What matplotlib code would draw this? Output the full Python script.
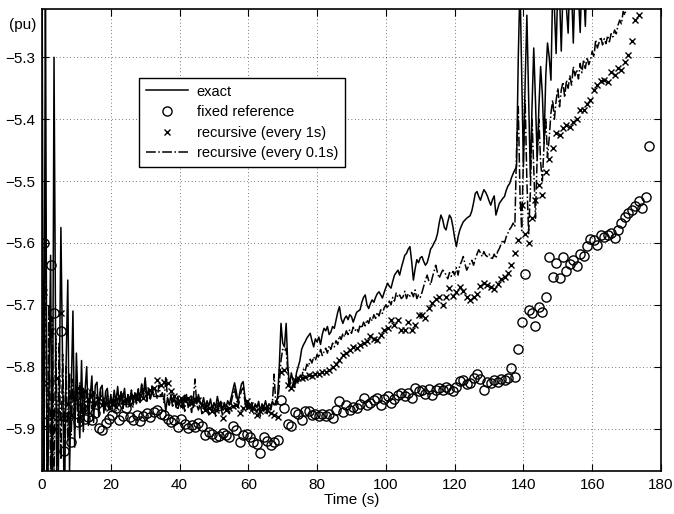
import numpy as np
import matplotlib
matplotlib.use("Agg")
import matplotlib.pyplot as plt

plt.rcParams['font.family'] = ['Liberation Sans', 'DejaVu Sans']
plt.rcParams['font.size'] = 11

# exact solution, sampled every 0.5 s from t = 0
exact = [
    -5.10, -6.10, -5.15, -6.10, -5.85, -5.62, -6.05, -5.30, -5.80, -6.10,
    -5.85, -5.575, -5.80, -6.05, -5.80, -5.66, -5.97, -5.84, -5.71, -5.93,
    -5.778, -5.86, -5.915, -5.79, -5.905, -5.84, -5.80, -5.895, -5.85, -5.815,
    -5.89, -5.83, -5.825, -5.88, -5.835, -5.83, -5.875, -5.84, -5.835, -5.87,
    # 20 s
    -5.845, -5.862, -5.838, -5.858, -5.832, -5.860, -5.840, -5.852, -5.835, -5.865,
    -5.845, -5.855, -5.838, -5.862, -5.842, -5.850, -5.836, -5.858, -5.830, -5.845,
    -5.818, -5.850, -5.835, -5.852, -5.840, -5.848, -5.848, -5.848, -5.848, -5.848,
    -5.848, -5.848, -5.872, -5.850, -5.862, -5.845, -5.858, -5.850, -5.866, -5.848,
    # 40 s
    -5.860, -5.852, -5.868, -5.846, -5.858, -5.850, -5.862, -5.848, -5.866, -5.852,
    -5.860, -5.845, -5.858, -5.862, -5.850, -5.868, -5.855, -5.864, -5.852, -5.870,
    -5.858, -5.866, -5.848, -5.862, -5.856, -5.870, -5.858, -5.866, -5.855, -5.862,
    -5.850, -5.838, -5.826, -5.840, -5.858, -5.842, -5.828, -5.824, -5.848, -5.866,
    # 60 s
    -5.856, -5.868, -5.858, -5.870, -5.860, -5.866, -5.856, -5.872, -5.860, -5.866,
    -5.855, -5.868, -5.860, -5.864, -5.856, -5.862, -5.858, -5.850, -5.800, -5.730,
    -5.762, -5.768, -5.730, -5.800, -5.832, -5.810, -5.822, -5.832, -5.810, -5.800,
    -5.790, -5.772, -5.765, -5.760, -5.754, -5.750, -5.746, -5.758, -5.768, -5.755,
    # 80 s
    -5.760, -5.752, -5.764, -5.748, -5.738, -5.742, -5.735, -5.748, -5.744, -5.735,
    -5.738, -5.725, -5.712, -5.703, -5.722, -5.730, -5.722, -5.718, -5.724, -5.716,
    -5.719, -5.728, -5.720, -5.712, -5.710, -5.708, -5.696, -5.688, -5.684, -5.700,
    -5.706, -5.698, -5.692, -5.696, -5.688, -5.682, -5.679, -5.684, -5.689, -5.680,
    # 100 s
    -5.672, -5.665, -5.670, -5.673, -5.662, -5.652, -5.648, -5.644, -5.652, -5.640,
    -5.630, -5.620, -5.617, -5.610, -5.606, -5.630, -5.660, -5.642, -5.627, -5.632,
    -5.624, -5.622, -5.630, -5.636, -5.632, -5.622, -5.610, -5.606, -5.600, -5.595,
    -5.585, -5.568, -5.555, -5.562, -5.575, -5.579, -5.566, -5.555, -5.560, -5.574,
    # 120 s
    -5.592, -5.606, -5.590, -5.579, -5.572, -5.566, -5.563, -5.560, -5.558, -5.556,
    -5.548, -5.535, -5.520, -5.517, -5.525, -5.531, -5.522, -5.514, -5.518, -5.524,
    -5.532, -5.539, -5.530, -5.524, -5.555, -5.545, -5.536, -5.532, -5.528, -5.525,
    -5.515, -5.508, -5.504, -5.495, -5.488, -5.482, -5.477, -5.300, -5.180, -5.330,
    # 140 s
    -5.477, -5.340, -5.232, -5.360, -5.493, -5.380, -5.285, -5.370, -5.466, -5.380,
    -5.315, -5.360, -5.439, -5.330, -5.277, -5.300, -5.337, -5.190, -5.220, -5.294,
    -5.180, -5.200, -5.290, -5.190, -5.170, -5.220, -5.261, -5.170, -5.190, -5.277,
    -5.180, -5.160, -5.200, -5.260, -5.170, -5.190, -5.250, -5.160, -5.130, -5.200,
    -5.100,
]

# recursive update every 0.1 s, sampled every 0.5 s from t = 0
recursive_fast = [
    -5.60, -6.00, -5.55, -6.02, -5.70, -5.98, -5.72, -5.98, -5.75, -5.96,
    -5.76, -5.95, -5.78, -5.93, -5.80, -5.92, -5.81, -5.91, -5.82, -5.90,
    -5.83, -5.89, -5.825, -5.88, -5.835, -5.875, -5.84, -5.87, -5.835, -5.868,
    -5.84, -5.865, -5.845, -5.872, -5.840, -5.862, -5.848, -5.870, -5.842, -5.866,
    # 20 s
    -5.850, -5.868, -5.845, -5.872, -5.852, -5.864, -5.842, -5.870, -5.848, -5.860,
    -5.844, -5.866, -5.838, -5.858, -5.846, -5.862, -5.834, -5.855, -5.826, -5.850,
    -5.830, -5.856, -5.840, -5.852, -5.832, -5.846, -5.838, -5.852, -5.830, -5.848,
    -5.842, -5.858, -5.816, -5.850, -5.862, -5.848, -5.866, -5.852, -5.860, -5.870,
    # 40 s
    -5.856, -5.868, -5.850, -5.872, -5.845, -5.866, -5.858, -5.874, -5.852, -5.820,
    -5.862, -5.870, -5.858, -5.876, -5.864, -5.872, -5.860, -5.878, -5.866, -5.872,
    -5.858, -5.880, -5.862, -5.874, -5.866, -5.878, -5.860, -5.872, -5.864, -5.876,
    -5.858, -5.846, -5.836, -5.850, -5.866, -5.850, -5.838, -5.834, -5.856, -5.872,
    # 60 s
    -5.862, -5.876, -5.866, -5.878, -5.868, -5.874, -5.862, -5.880, -5.866, -5.872,
    -5.864, -5.876, -5.860, -5.870, -5.858, -5.812, -5.862, -5.860, -5.830, -5.790,
    -5.772, -5.775, -5.770, -5.810, -5.840, -5.835, -5.828, -5.836, -5.820, -5.824,
    -5.812, -5.818, -5.804, -5.808, -5.796, -5.800, -5.788, -5.794, -5.784, -5.790,
    # 80 s
    -5.780, -5.786, -5.772, -5.782, -5.776, -5.770, -5.778, -5.766, -5.772, -5.762,
    -5.768, -5.758, -5.764, -5.750, -5.756, -5.746, -5.752, -5.742, -5.748, -5.740,
    -5.746, -5.736, -5.742, -5.738, -5.744, -5.732, -5.738, -5.728, -5.734, -5.724,
    -5.730, -5.720, -5.726, -5.716, -5.722, -5.712, -5.718, -5.708, -5.714, -5.705,
    # 100 s
    -5.700, -5.706, -5.694, -5.700, -5.688, -5.694, -5.681, -5.688, -5.684, -5.690,
    -5.687, -5.678, -5.690, -5.682, -5.686, -5.680, -5.687, -5.676, -5.690, -5.684,
    -5.688, -5.680, -5.670, -5.660, -5.652, -5.662, -5.668, -5.656, -5.646, -5.636,
    -5.648, -5.657, -5.650, -5.644, -5.646, -5.652, -5.658, -5.648, -5.654, -5.646,
    # 120 s
    -5.652, -5.640, -5.652, -5.636, -5.630, -5.622, -5.634, -5.644, -5.638, -5.633,
    -5.628, -5.636, -5.626, -5.618, -5.611, -5.616, -5.622, -5.614, -5.620, -5.622,
    -5.618, -5.624, -5.625, -5.618, -5.625, -5.614, -5.609, -5.602, -5.595, -5.600,
    -5.590, -5.584, -5.578, -5.574, -5.568, -5.574, -5.450, -5.380, -5.520, -5.580,
    # 140 s
    -5.460, -5.370, -5.500, -5.585, -5.520, -5.400, -5.480, -5.560, -5.460, -5.400,
    -5.470, -5.500, -5.440, -5.400, -5.461, -5.430, -5.390, -5.369, -5.400, -5.370,
    -5.350, -5.380, -5.353, -5.340, -5.365, -5.337, -5.350, -5.330, -5.345, -5.315,
    -5.330, -5.320, -5.335, -5.310, -5.325, -5.304, -5.318, -5.300, -5.312, -5.304,
    # 160 s
    -5.290, -5.300, -5.272, -5.285, -5.276, -5.267, -5.280, -5.270, -5.278, -5.265,
    -5.275, -5.262, -5.267, -5.256, -5.262, -5.248, -5.240, -5.246, -5.226, -5.232,
    -5.215, -5.205, -5.195,
]

# fixed reference, one value per second (t = 0.5, 1.5, ...)
fixed_ref = [
    -5.600, -5.889, -5.636, -5.714, -5.878, -5.743, -5.937, -5.881, -5.921, -5.848,
    -5.889, -5.867, -5.884, -5.881, -5.886, -5.875, -5.899, -5.903, -5.891, -5.884,
    -5.878, -5.867, -5.886, -5.880, -5.867, -5.882, -5.886, -5.878, -5.888, -5.879,
    -5.875, -5.882, -5.874, -5.870, -5.876, -5.878, -5.884, -5.889, -5.886, -5.897,
    -5.885, -5.893, -5.899, -5.894, -5.897, -5.891, -5.896, -5.910, -5.905, -5.908,
    -5.914, -5.912, -5.907, -5.910, -5.913, -5.896, -5.902, -5.921, -5.910, -5.908,
    -5.913, -5.921, -5.925, -5.939, -5.913, -5.920, -5.926, -5.922, -5.918, -5.854,
    -5.867, -5.892, -5.896, -5.874, -5.877, -5.886, -5.871, -5.872, -5.878, -5.876,
    -5.879, -5.877, -5.880, -5.876, -5.883, -5.870, -5.856, -5.874, -5.862, -5.870,
    -5.865, -5.867, -5.860, -5.851, -5.862, -5.858, -5.854, -5.850, -5.862, -5.853,
    -5.848, -5.858, -5.852, -5.846, -5.842, -5.848, -5.843, -5.850, -5.835, -5.840,
    -5.838, -5.844, -5.836, -5.846, -5.838, -5.834, -5.838, -5.833, -5.836, -5.840,
    -5.832, -5.823, -5.821, -5.828, -5.826, -5.818, -5.812, -5.820, -5.837, -5.825,
    -5.826, -5.822, -5.824, -5.820, -5.822, -5.818, -5.802, -5.817, -5.772, -5.727,
    -5.650, -5.708, -5.714, -5.735, -5.703, -5.711, -5.687, -5.623, -5.655, -5.632,
    -5.657, -5.623, -5.645, -5.634, -5.627, -5.638, -5.618, -5.621, -5.605, -5.594,
    -5.595, -5.603, -5.587, -5.590, -5.587, -5.584, -5.592, -5.579, -5.568, -5.558,
    -5.552, -5.547, -5.541, -5.533, -5.544, -5.526, -5.443,
]

# recursive update every 1 s (t = 0.5, 1.5, ...)
recursive_slow = [
    -5.679, -5.827, -5.743, -5.900, -5.819, -5.714, -5.883, -5.860, -5.878, -5.850,
    -5.835, -5.848, -5.840, -5.852, -5.846, -5.858, -5.850, -5.862, -5.858, -5.866,
    -5.860, -5.865, -5.848, -5.856, -5.852, -5.860, -5.848, -5.852, -5.846, -5.850,
    -5.843, -5.838, -5.835, -5.821, -5.830, -5.824, -5.826, -5.840, -5.848, -5.859,
    -5.851, -5.854, -5.850, -5.858, -5.852, -5.854, -5.862, -5.870, -5.866, -5.872,
    -5.870, -5.862, -5.883, -5.870, -5.867, -5.864, -5.862, -5.875, -5.866, -5.856,
    -5.862, -5.867, -5.878, -5.872, -5.866, -5.870, -5.875, -5.878, -5.881, -5.808,
    -5.806, -5.829, -5.835, -5.821, -5.819, -5.818, -5.816, -5.813, -5.815, -5.812,
    -5.811, -5.808, -5.809, -5.805, -5.801, -5.795, -5.789, -5.781, -5.778, -5.773,
    -5.768, -5.770, -5.765, -5.762, -5.759, -5.751, -5.755, -5.757, -5.748, -5.741,
    -5.738, -5.724, -5.732, -5.724, -5.741, -5.741, -5.727, -5.741, -5.733, -5.716,
    -5.716, -5.722, -5.705, -5.697, -5.690, -5.687, -5.700, -5.688, -5.673, -5.686,
    -5.680, -5.672, -5.677, -5.687, -5.693, -5.688, -5.682, -5.670, -5.664, -5.668,
    -5.671, -5.674, -5.667, -5.659, -5.655, -5.649, -5.636, -5.617, -5.595, -5.539,
    -5.585, -5.600, -5.560, -5.531, -5.506, -5.522, -5.485, -5.465, -5.447, -5.423,
    -5.426, -5.415, -5.409, -5.412, -5.404, -5.400, -5.385, -5.386, -5.376, -5.369,
    -5.353, -5.345, -5.339, -5.337, -5.340, -5.323, -5.329, -5.318, -5.320, -5.308,
    -5.296, -5.273, -5.240, -5.232,
]

t_exact = np.arange(len(exact)) * 0.5
t_fast = np.arange(len(recursive_fast)) * 0.5
t_fixed = np.arange(len(fixed_ref)) + 0.5
t_slow = np.arange(len(recursive_slow)) + 0.5

fig = plt.figure(figsize=(6.74, 5.14), dpi=100)
ax = fig.add_axes([0.0623, 0.0837, 0.9184, 0.8988])

ax.plot(t_exact, exact, color='k', lw=1.1, label='exact')
ax.plot(t_fixed, fixed_ref, 'o', mfc='none', mec='k', ms=6.6, mew=1.0,
        label='fixed reference')
ax.plot(t_slow, recursive_slow, 'x', color='k', ms=5.0, mew=1.0,
        label='recursive (every 1s)')
ax.plot(t_fast, recursive_fast, '-.', color='k', lw=1.1,
        label='recursive (every 0.1s)')

ax.set_xlim(0, 180)
ax.set_ylim(-5.9685, -5.222)
ax.set_xticks(np.arange(0, 181, 20))
ax.set_yticks([-5.9, -5.8, -5.7, -5.6, -5.5, -5.4, -5.3])
ax.tick_params(direction='in', top=True, right=True, length=5, width=0.8,
               labelsize=11, pad=5)
ax.grid(True, linestyle=(0, (1, 4)), color='k', lw=0.5)
for s in ax.spines.values():
    s.set_linewidth(1.2)

ax.set_xlabel('Time (s)', labelpad=1)
fig.text(9 / 674, 1 - 25 / 514, '(pu)', va='center', ha='left', fontsize=11)

leg = ax.legend(loc='upper left', bbox_to_anchor=(0.1567, 0.8506),
                borderaxespad=0, fancybox=False, edgecolor='k', framealpha=1,
                handlelength=2.9, labelspacing=0.45, borderpad=0.45,
                handletextpad=0.6, fontsize=10.5)
leg.get_frame().set_linewidth(1.0)

fig.savefig('out.png', dpi=100)
